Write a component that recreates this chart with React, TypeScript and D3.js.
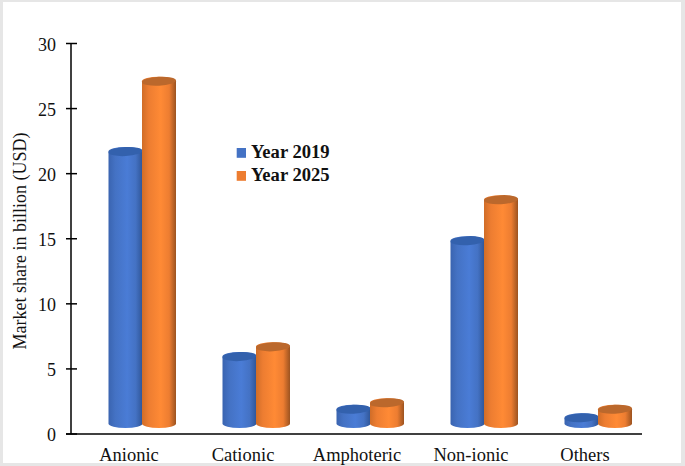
import React from "react";
import * as d3 from "d3";

const categories = ["Anionic", "Cationic", "Amphoteric", "Non-ionic", "Others"];
const year2019 = [21.7, 5.95, 1.9, 14.85, 1.25];
const year2025 = [27.1, 6.7, 2.4, 18.0, 1.9];
const yTicks = [0, 5, 10, 15, 20, 25, 30];
const seriesNames = ["Year 2019", "Year 2025"];

const W = 685, H = 466;
const FONT = "'Liberation Serif', serif";
const y = d3.scaleLinear().domain([0, 30]).range([434, 43.5]);
const x = d3.scalePoint<string>().domain(categories).range([142, 598]);
const RX = 17, RY = 4.5, BASE = 423.5, TILT = -3;

const palettes = [
  { id: "b", left: "#3a64b0", right: "#2f5597", mid: "#4a7cd6", top: "#3361ad", flat: "#4472c4" },
  { id: "o", left: "#d06d28", right: "#9c5320", mid: "#ff8a35", top: "#bb682c", flat: "#ed7d31" },
];

function cyl(cx: number, top: number, bottom: number) {
  return `M${cx - RX},${top} L${cx - RX},${bottom} A${RX},${RY} 0 0 0 ${cx + RX},${bottom} L${cx + RX},${top} A${RX},${RY} 0 0 0 ${cx - RX},${top} Z`;
}

export default function App() {
  const series = [year2019, year2025];
  return (
    <svg width={W} height={H} style={{ position: "absolute", left: 0, top: 0, display: "block" }} fontFamily={FONT}>
      <defs>
        {palettes.map((p) => (
          <linearGradient key={p.id} id={p.id} x1="0" x2="1" y1="0" y2="0">
            <stop offset="0" stopColor={p.left} />
            <stop offset="0.2" stopColor={p.flat} />
            <stop offset="0.55" stopColor={p.mid} />
            <stop offset="0.8" stopColor={p.flat} />
            <stop offset="1" stopColor={p.right} />
          </linearGradient>
        ))}
      </defs>
      <rect x={0} y={0} width={W} height={H} fill="#e6e6e6" />
      <rect x={3} y={2} width={W - 7} height={H - 5} fill="#fff" />

      <line x1={71} x2={71} y1={y(30)} y2={y(0)} stroke="#000" strokeWidth={1.5} />
      <line x1={66} x2={642} y1={y(0)} y2={y(0)} stroke="#000" strokeWidth={1.5} />
      {yTicks.map((t) => (
        <g key={t}>
          <line x1={66} x2={77} y1={y(t)} y2={y(t)} stroke="#000" strokeWidth={1.5} />
          <text x={56} y={y(t) + 7} textAnchor="end" fontSize={18} fill="#111">{t}</text>
        </g>
      ))}

      {categories.map((c, i) => {
        const cx = x(c)!;
        return (
          <g key={c}>
            {series.map((s, k) => {
              const p = palettes[k];
              const mx = cx + (k === 0 ? -RX + 0.5 : RX);
              const top = y(s[i]);
              return (
                <g key={k}>
                  <path d={cyl(mx, top, BASE)} fill={`url(#${p.id})`} />
                  <ellipse cx={mx} cy={top} rx={RX} ry={RY} fill={p.top} transform={`rotate(${TILT} ${mx} ${top})`} />
                </g>
              );
            })}
            <text x={cx - 13} y={461} textAnchor="middle" fontSize={18.5} fill="#111">{c}</text>
          </g>
        );
      })}

      {seriesNames.map((n, i) => (
        <g key={n}>
          <rect x={236.7} y={148 + i * 23} width={9.3} height={9.8} fill={palettes[i].flat} />
          <text x={251} y={158.3 + i * 22.7} fontSize={18.6} fontWeight="bold" fill="#111">{n}</text>
        </g>
      ))}

      <text transform="translate(26,241) rotate(-90)" textAnchor="middle" fontSize={18} fill="#111">
        Market share in billion (USD)
      </text>
    </svg>
  );
}
